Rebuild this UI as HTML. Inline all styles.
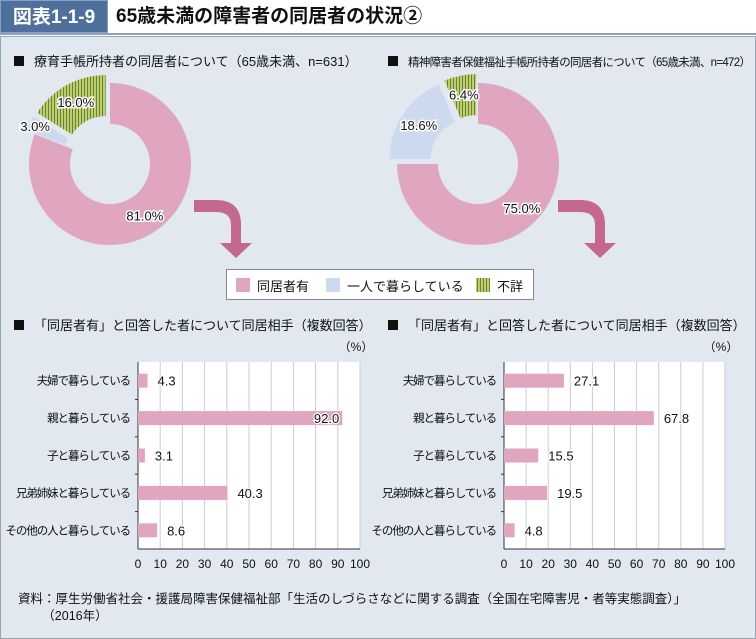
<!DOCTYPE html>
<html><head><meta charset="utf-8">
<style>
body{margin:0;width:756px;height:638px;background:#fff;font-family:"Liberation Sans","Noto Sans CJK JP",sans-serif;position:relative;overflow:hidden}
.abs{position:absolute}
</style></head><body>
<div class="abs" style="left:0;top:0;width:108px;height:33px;background:#4f6f9c;color:#fff;font-size:19px;font-weight:bold;line-height:33px;text-align:center;border:1px solid #8aa0bf;box-sizing:border-box">図表1-1-9</div>
<div class="abs" style="left:116px;top:0;height:33px;line-height:33px;font-size:19px;font-weight:bold;color:#111">65歳未満の障害者の同居者の状況②</div>
<div class="abs" style="left:0;top:33px;width:756px;height:2px;background:#8aa0bf"></div>
<div class="abs" style="left:0;top:36px;width:754px;height:601px;background:#e1e8ef;border:1px solid #9aa5b0"></div>
<svg class="abs" style="left:0;top:0" width="756" height="638" id="svg">
<defs><pattern id="stripe" width="3" height="4" patternUnits="userSpaceOnUse"><rect width="3" height="4" fill="#b9d06c"/><rect width="1" height="4" fill="#6f7f3a"/></pattern></defs>
</svg>
<div class="abs" style="left:18px;top:591px;font-size:12.5px;color:#111;line-height:17px">資料：厚生労働省社会・援護局障害保健福祉部「生活のしづらさなどに関する調査（全国在宅障害児・者等実態調査）」<br>&nbsp;&nbsp;&nbsp;&nbsp;&nbsp;&nbsp;&nbsp;（2016年）</div>
<script>
const donutLabels=["同居者有","一人で暮らしている","不詳"];
const donutA=[81.0,3.0,16.0];
const donutB=[75.0,18.6,6.4];
const barCats=["夫婦で暮らしている","親と暮らしている","子と暮らしている","兄弟姉妹と暮らしている","その他の人と暮らしている"];
const barA=[4.3,92.0,3.1,40.3,8.6];
const barB=[27.1,67.8,15.5,19.5,4.8];
const xTicks=[0,10,20,30,40,50,60,70,80,90,100];
const fills=["#e0a6bf","#cdd9ef","url(#stripe)"];
const NS="http://www.w3.org/2000/svg";
const svg=document.getElementById('svg');
function mk(t,a,p){const e=document.createElementNS(NS,t);for(const k in a)e.setAttribute(k,a[k]);(p||svg).appendChild(e);return e;}
function txt(x,y,s,size,anchor,extra){const e=mk('text',Object.assign({x:x,y:y,'font-size':size,'text-anchor':anchor||'start',fill:'#111'},extra||{}));e.textContent=s;return e;}
function title(x,y,s,size,ls){const r=mk('rect',{x:x,y:y-10,width:10,height:10,fill:'#111'});const t=txt(x+20,y,s,size,'start',{'letter-spacing':ls||0});}
title(14,66,"療育手帳所持者の同居者について（65歳未満、n=631）",13);
title(388,66,"精神障害者保健福祉手帳所持者の同居者について（65歳未満、n=472）",11.5,-0.7);
title(14,330,"「同居者有」と回答した者について同居相手（複数回答）",13);
title(388,330,"「同居者有」と回答した者について同居相手（複数回答）",13);
function donut(cx,cy,vals,name){
  const R=81,r=40;let a0=0;
  vals.forEach((v,i)=>{
    const a1=a0+v/100*2*Math.PI, mid=(a0+a1)/2;
    const off=i==0?0:9;
    const ox=cx+off*Math.sin(mid), oy=cy-off*Math.cos(mid);
    const p=(a,rr)=>[ox+rr*Math.sin(a),oy-rr*Math.cos(a)];
    const large=(a1-a0)>Math.PI?1:0;
    const [x1,y1]=p(a0,R),[x2,y2]=p(a1,R),[x3,y3]=p(a1,r),[x4,y4]=p(a0,r);
    const path=mk('path',{d:`M${x1},${y1}A${R},${R} 0 ${large} 1 ${x2},${y2}L${x3},${y3}A${r},${r} 0 ${large} 0 ${x4},${y4}Z`,fill:fills[i]});
    
    
    const lr=i==0?62:(v<5?84:71);
    const lx=cx+lr*Math.sin(mid), ly=cy-lr*Math.cos(mid)+5;
    const t=txt(lx,ly,v.toFixed(1)+"%",13,'middle',{stroke:'#fff','stroke-width':3,'paint-order':'stroke'});
    
    
    a0=a1;
  });
}
donut(110,164,donutA,'donut-ryoiku');
donut(478,164,donutB,'donut-seishin');
function arrow(x){const g=mk('path',{d:`M${x},${200} L${x+22},200 Q${x+47},200 ${x+47},225 L${x+47},243 L${x+58},243 L${x+42},258 L${x+26},243 L${x+37},243 L${x+37},225 Q${x+37},212 ${x+22},212 L${x},212 Z`,fill:'#c5688f'});}
arrow(194);arrow(558);
const lg=mk('rect',{x:226.5,y:269.5,width:307,height:30,fill:'#fff',stroke:'#888'});
const lx=[236,326,476];
donutLabels.forEach((l,i)=>{const r=mk('rect',{x:lx[i],y:278,width:14,height:14,fill:fills[i]});const t=txt(lx[i]+21,291,l,13);});
function bars(x0,x1,vals,name){
  const top=362,bot=549,sc=v=>x0+(x1-x0)*v/100;
  const bg=mk('rect',{x:x0,y:top,width:x1-x0,height:bot-top,fill:'#fff'});
  xTicks.forEach(t=>{if(t>0){const l=mk('line',{x1:sc(t),x2:sc(t),y1:top,y2:bot,stroke:'#ccc','stroke-width':1});}
    const tl=txt(sc(t),568,String(t),12,'middle');});
  mk('line',{x1:x0,x2:x0,y1:top,y2:bot,stroke:'#333'});mk('line',{x1:x0,x2:x1,y1:bot,y2:bot,stroke:'#333'});
  const band=(bot-top)/barCats.length;
  for(let i=1;i<barCats.length;i++)mk('line',{x1:x0-3,x2:x0,y1:top+band*i,y2:top+band*i,stroke:'#333'});
  const pu=txt(x1-4,351,"（%）",12,'middle');
  vals.forEach((v,i)=>{const cy=top+band*(i+0.5);
    const b=mk('rect',{x:x0,y:cy-7,width:sc(v)-x0,height:14,fill:'#e0a6bf'});
    const c=txt(x0-8,cy+4,barCats[i],11.5,'end',{'letter-spacing':-1.1});
    const inside=v>85;const vt=txt(inside?sc(v)-3:sc(v)+10,cy+5,v.toFixed(1),13,inside?'end':'start',{stroke:'#fff','stroke-width':2.5,'paint-order':'stroke'});
  });
}
bars(138,360,barA,'bars-ryoiku');
bars(504,725,barB,'bars-seishin');
</script>
</body></html>
